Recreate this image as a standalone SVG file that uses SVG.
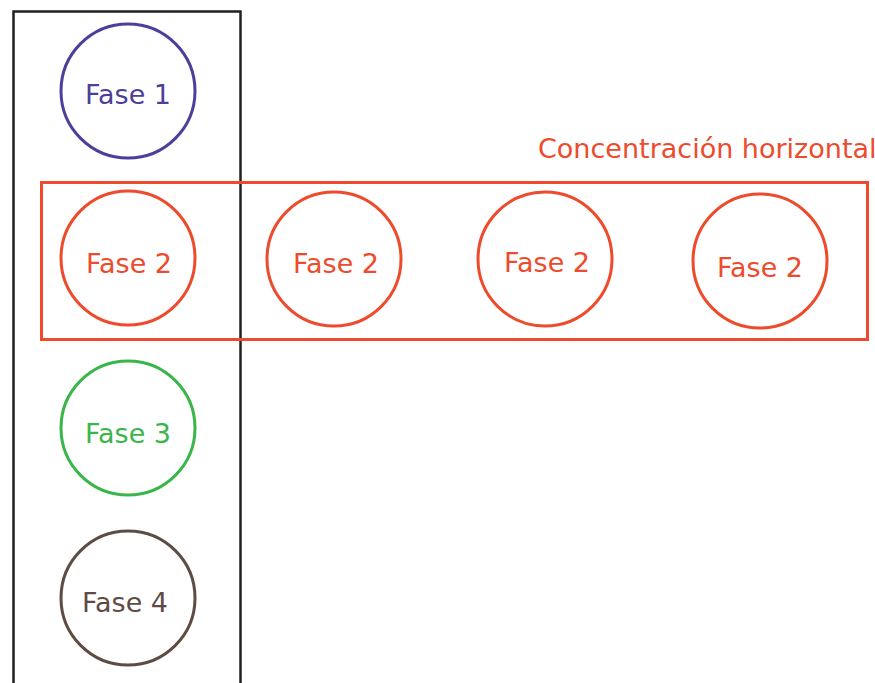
<svg xmlns="http://www.w3.org/2000/svg" width="875" height="683" viewBox="0 0 875 683">
<style>
text{font-family:"DejaVu Sans","Liberation Sans",sans-serif;font-size:27px;text-anchor:middle}
circle{fill:none;stroke-width:3}
.p{stroke:#4B3F9B}.pt{fill:#4B3F9B}
.r{stroke:#EE4A2C}.rt{fill:#EE4A2C}
.g{stroke:#3AB54A}.gt{fill:#3AB54A}
.b{stroke:#5E4B44}.bt{fill:#5E4B44}
</style>
<rect width="875" height="683" fill="#fff"/>
<g id="vertical">
<rect x="13.5" y="11.5" width="227" height="690" fill="none" stroke="#231F20" stroke-width="2.5"/>
</g>
<g id="horizontal">
<rect x="41.5" y="182.5" width="826" height="157" fill="none" stroke="#EE4A2C" stroke-width="3"/>
<text x="538" y="158" class="rt" style="text-anchor:start">Concentración horizontal</text>
</g>
<g id="fase1"><circle cx="128" cy="91" r="67" class="p"/><text x="128" y="104" class="pt">Fase 1</text></g>
<g id="fase2a"><circle cx="128" cy="258" r="67" class="r"/><text x="129" y="273" class="rt">Fase 2</text></g>
<g id="fase2b"><circle cx="334" cy="259" r="67" class="r"/><text x="336" y="273" class="rt">Fase 2</text></g>
<g id="fase2c"><circle cx="545" cy="259" r="67" class="r"/><text x="547" y="272" class="rt">Fase 2</text></g>
<g id="fase2d"><circle cx="760" cy="261" r="67" class="r"/><text x="760" y="277" class="rt">Fase 2</text></g>
<g id="fase3"><circle cx="128" cy="428" r="67" class="g"/><text x="128" y="443" class="gt">Fase 3</text></g>
<g id="fase4"><circle cx="128" cy="598" r="67" class="b"/><text x="125" y="612" class="bt">Fase 4</text></g>
<g id="connectors"></g>
</svg>
